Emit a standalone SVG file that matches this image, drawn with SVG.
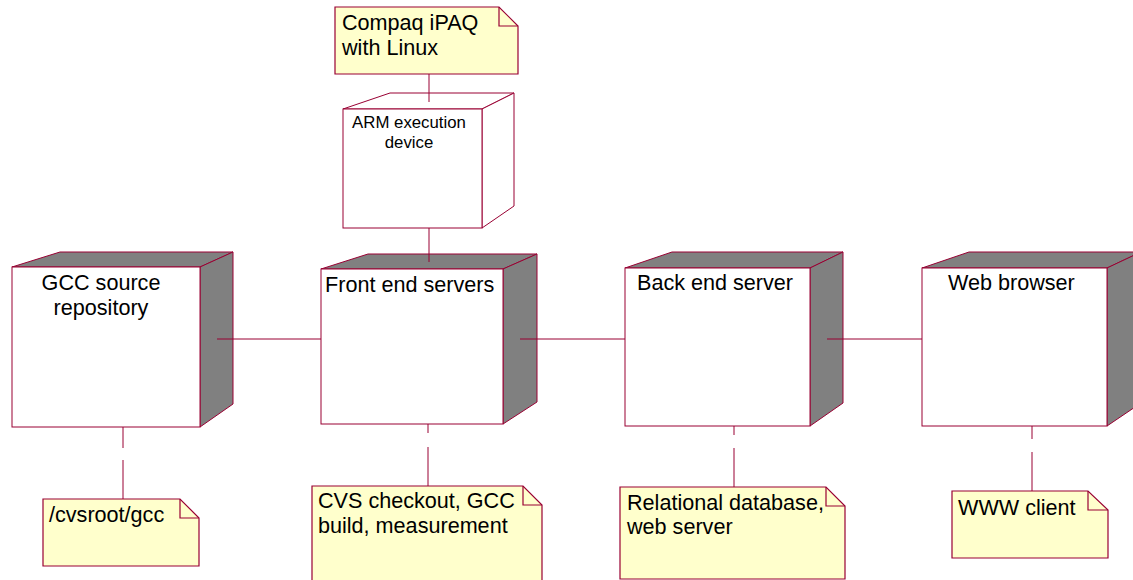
<svg xmlns="http://www.w3.org/2000/svg" width="1133" height="580" viewBox="0 0 1133 580">
<style>
.face{fill:#808080;stroke:#990033;stroke-width:1}
.plain{fill:#ffffff;stroke:#990033;stroke-width:1}
.front{fill:#ffffff;stroke:#990033;stroke-width:1}
.note{fill:#ffffcc;stroke:#990033;stroke-width:1.2}
.fold{fill:none;stroke:#990033;stroke-width:1.2}
.conn line{stroke:#990033;stroke-width:1}
text{font-family:"Liberation Sans",Arial,sans-serif;fill:#000000}
.big{font-size:21.6px}
.small{font-size:16.8px}
</style>
<rect width="1133" height="580" fill="#ffffff"/>

<g id="node-compaq-note">
<path class="note" d="M335,7 H499 L518,26 V74 H335 Z"/>
<path class="fold" d="M499,7 V26 H518"/>
<text class="big" x="342" y="30">Compaq iPAQ</text>
<text class="big" x="342" y="55">with Linux</text>
</g>

<g id="node-arm">
<polygon class="plain" points="343,109 390,93 514,93 482,109"/>
<polygon class="plain" points="482,109 514,93 514,206 482,228"/>
<rect class="front" x="343" y="109" width="139" height="119"/>
<text class="small" x="409" y="128" text-anchor="middle">ARM execution</text>
<text class="small" x="409" y="148" text-anchor="middle">device</text>
</g>

<g id="node-gcc">
<polygon class="face" points="12,267 60,252 233,252 200,267"/>
<polygon class="face" points="200,267 233,252 233,404 200,427"/>
<rect class="front" x="12" y="267" width="188" height="160"/>
<text class="big" x="101" y="290" text-anchor="middle">GCC source</text>
<text class="big" x="101" y="315" text-anchor="middle">repository</text>
</g>

<g id="node-front">
<polygon class="face" points="321,269 368,254 537,254 503,269"/>
<polygon class="face" points="503,269 537,254 537,402 503,424"/>
<rect class="front" x="321" y="269" width="182" height="155"/>
<text class="big" x="325" y="292">Front end servers</text>
</g>

<g id="node-back">
<polygon class="face" points="625,268 672,252 843,252 810,268"/>
<polygon class="face" points="810,268 843,252 843,403 810,426"/>
<rect class="front" x="625" y="268" width="185" height="158"/>
<text class="big" x="637" y="290">Back end server</text>
</g>

<g id="node-web">
<polygon class="face" points="922,268 969,252 1141,252 1107,268"/>
<polygon class="face" points="1107,268 1141,252 1141,403 1107,426"/>
<rect class="front" x="922" y="268" width="185" height="158"/>
<text class="big" x="948" y="290">Web browser</text>
</g>

<g id="node-gcc-note">
<path class="note" d="M43,499 H180 L199,518 V566 H43 Z"/>
<path class="fold" d="M180,499 V518 H199"/>
<text class="big" x="49" y="522">/cvsroot/gcc</text>
</g>

<g id="node-front-note">
<path class="note" d="M312,486 H523 L542,505 V585 H312 Z"/>
<path class="fold" d="M523,486 V505 H542"/>
<text class="big" x="318" y="508">CVS checkout, GCC</text>
<text class="big" x="318" y="533">build, measurement</text>
</g>

<g id="node-back-note">
<path class="note" d="M620,487 H826 L845,506 V579 H620 Z"/>
<path class="fold" d="M826,487 V506 H845"/>
<text class="big" x="627" y="510">Relational database,</text>
<text class="big" x="627" y="534">web server</text>
</g>

<g id="node-web-note">
<path class="note" d="M952,491 H1088 L1108,510 V558 H952 Z"/>
<path class="fold" d="M1088,491 V510 H1108"/>
<text class="big" x="958" y="515">WWW client</text>
</g>

<g id="connectors" class="conn">
<line x1="429" y1="74" x2="429" y2="102"/>
<line x1="429" y1="228" x2="429" y2="262"/>
<line x1="217" y1="339" x2="321" y2="339"/>
<line x1="520" y1="339" x2="625" y2="339"/>
<line x1="827" y1="339" x2="922" y2="339"/>
<line x1="123" y1="427" x2="123" y2="448"/>
<line x1="123" y1="460" x2="123" y2="499"/>
<line x1="428" y1="424" x2="428" y2="433"/>
<line x1="428" y1="447" x2="428" y2="486"/>
<line x1="734" y1="426" x2="734" y2="435"/>
<line x1="734" y1="448" x2="734" y2="487"/>
<line x1="1032" y1="426" x2="1032" y2="439"/>
<line x1="1032" y1="452" x2="1032" y2="491"/>
</g>
</svg>
